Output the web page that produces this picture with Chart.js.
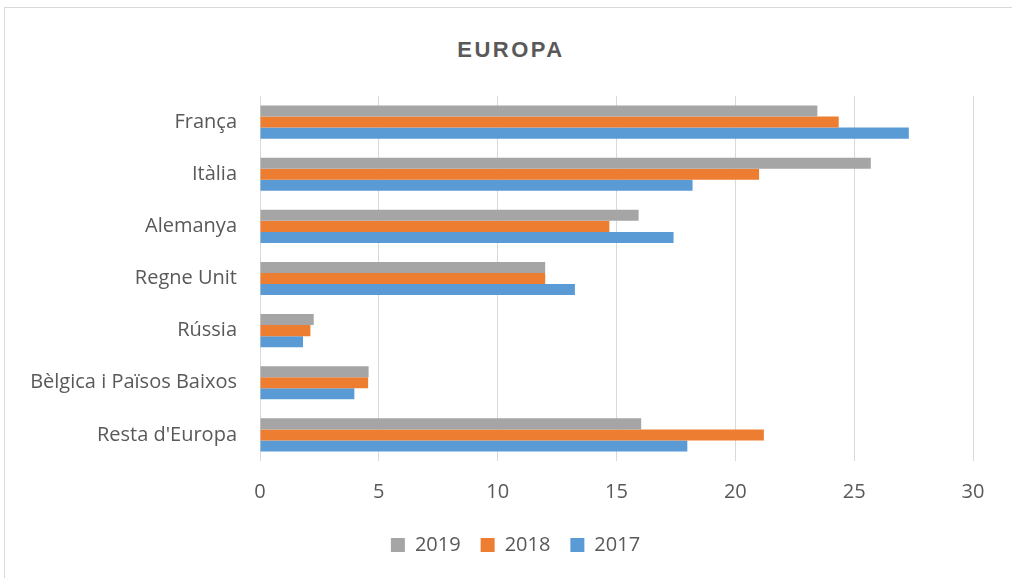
<!DOCTYPE html>
<html>
<head>
<meta charset="utf-8">
<script src="https://cdn.jsdelivr.net/npm/chart.js@4/dist/chart.umd.min.js"></script>
<style>
  html, body { margin: 0; padding: 0; background: #fff; overflow: hidden; }
  #wrap { position: relative; width: 1012px; height: 578px; }
  #frame { position: absolute; left: 4px; top: 7px; width: 1100px; height: 700px;
           border-left: 1px solid #d9d9d9; border-top: 1px solid #d9d9d9; }
  #title { position: absolute; left: 0; top: 37px; width: 1022px; text-align: center;
           font: bold 22px "Liberation Sans", Arial, sans-serif; letter-spacing: 2.5px;
           color: #595959; }
  canvas { position: absolute; left: 0; top: 0; }
</style>
</head>
<body>
<div id="wrap">
  <div id="frame"></div>
  <div id="title">EUROPA</div>
  <canvas id="chart" width="1012" height="578"></canvas>
</div>
<script>
// Europe, values per country for three years
const categories = ["França", "Itàlia", "Alemanya", "Regne Unit", "Rússia", "Bèlgica i Països Baixos", "Resta d'Europa"];
const years = ["2019", "2018", "2017"];
const values2019 = [23.45, 25.7, 15.93, 12.0, 2.26, 4.57, 16.04];
const values2018 = [24.35, 21.0, 14.7, 12.0, 2.12, 4.55, 21.2];
const values2017 = [27.3, 18.2, 17.4, 13.25, 1.81, 3.97, 17.98];
const xTicks = [0, 5, 10, 15, 20, 25, 30];

const colors = ["#a5a5a5", "#ed7d31", "#5b9bd5"];
const textColor = "#595959";
const font = { family: "Open Sans", size: 20 };

const series = [values2019, values2018, values2017];

// nudge the legend right so it sits under the middle of the frame, like the original
const legendShift = {
  id: "legendShift",
  afterLayout(chart) {
    if (!chart.legend) return;
    chart.legend.left += 29;
    chart.legend.right += 29;
  },
};

new Chart(document.getElementById("chart"), {
  type: "bar",
  data: {
    labels: categories,
    datasets: series.map((vals, i) => ({
      label: years[i],
      data: vals,
      backgroundColor: colors[i],
      borderWidth: 0,
      barPercentage: 1,
      categoryPercentage: 0.635,
    })),
  },
  options: {
    indexAxis: "y",
    responsive: false,
    animation: false,
    layout: { padding: { top: 96, right: 39, bottom: 13, left: 0 } },
    plugins: {
      legend: {
        position: "bottom",
        labels: { color: textColor, font, boxWidth: 14, boxHeight: 14, padding: 20 },
      },
      tooltip: { enabled: false },
    },
    scales: {
      x: {
        min: 0,
        max: 30,
        afterBuildTicks: (s) => { s.ticks = xTicks.map(v => ({ value: v })); },
        afterFit: (s) => { s.height = 54; },
        grid: { color: "#d9d9d9", lineWidth: 1, drawTicks: false },
        border: { display: false },
        ticks: { color: textColor, font, padding: 19, maxRotation: 0 },
      },
      y: {
        afterFit: (s) => { s.width = 260; },
        grid: { display: false, drawTicks: false },
        border: { display: false },
        ticks: { color: textColor, font, padding: 23 },
      },
    },
  },
  plugins: [legendShift],
});
</script>
</body>
</html>
